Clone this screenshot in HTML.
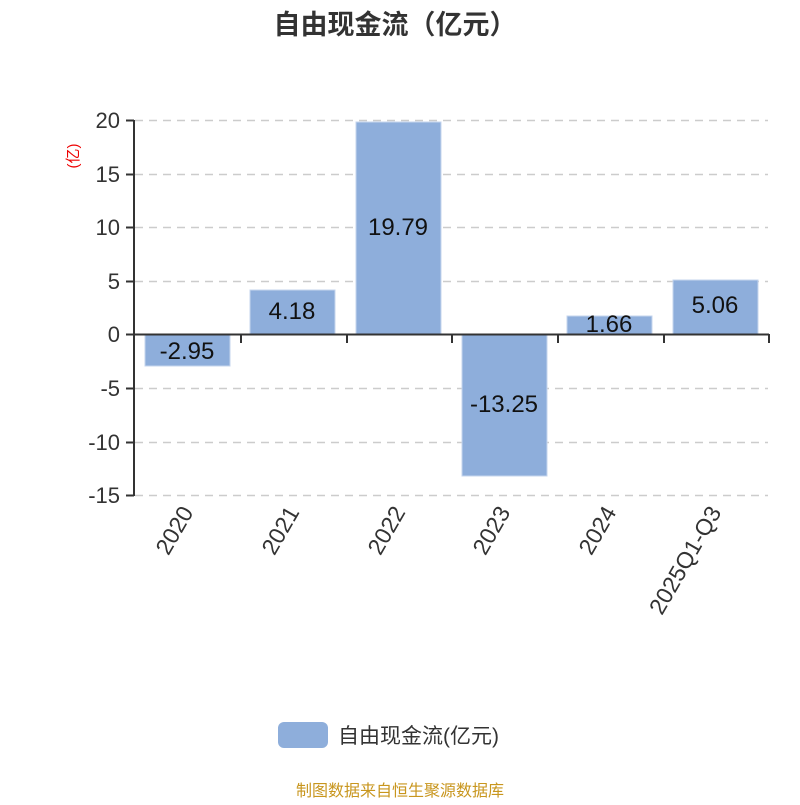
<!DOCTYPE html>
<html><head><meta charset="utf-8"><style>body{margin:0;background:#fff}</style></head><body>
<svg width="800" height="800" xmlns="http://www.w3.org/2000/svg" font-family="'Liberation Sans','Noto Sans CJK SC',sans-serif">
<text x="395" y="34" text-anchor="middle" font-size="27" font-weight="bold" fill="#333">自由现金流（亿元）</text>
<g stroke="#ccc" stroke-width="1.5" stroke-dasharray="8,6">
<line x1="135" y1="120.5" x2="768" y2="120.5"/><line x1="135" y1="174.5" x2="768" y2="174.5"/><line x1="135" y1="227.5" x2="768" y2="227.5"/><line x1="135" y1="281.5" x2="768" y2="281.5"/><line x1="135" y1="388.5" x2="768" y2="388.5"/><line x1="135" y1="442.5" x2="768" y2="442.5"/><line x1="135" y1="495.5" x2="768" y2="495.5"/>
</g>
<g fill="#8eaedb" stroke="#c5d5ee" stroke-width="1">
<rect x="145" y="334" width="85" height="32"/>
<rect x="250" y="290" width="85" height="44"/>
<rect x="356" y="122" width="85" height="212"/>
<rect x="462" y="334" width="85" height="142"/>
<rect x="567" y="316" width="85" height="18"/>
<rect x="673" y="280" width="85" height="54"/>
</g>
<g stroke="#333" stroke-width="2" fill="none">
<line x1="134" y1="120" x2="134" y2="496"/>
<line x1="126" y1="120.5" x2="134" y2="120.5"/><line x1="126" y1="174.5" x2="134" y2="174.5"/><line x1="126" y1="227.5" x2="134" y2="227.5"/><line x1="126" y1="281.5" x2="134" y2="281.5"/><line x1="126" y1="334.5" x2="134" y2="334.5"/><line x1="126" y1="388.5" x2="134" y2="388.5"/><line x1="126" y1="442.5" x2="134" y2="442.5"/><line x1="126" y1="495.5" x2="134" y2="495.5"/>
<line x1="134" y1="334.5" x2="769" y2="334.5"/>
<line x1="241" y1="334" x2="241" y2="343"/><line x1="347" y1="334" x2="347" y2="343"/><line x1="452" y1="334" x2="452" y2="343"/><line x1="558" y1="334" x2="558" y2="343"/><line x1="664" y1="334" x2="664" y2="343"/><line x1="769" y1="334" x2="769" y2="343"/>
</g>
<g font-size="22" fill="#333" text-anchor="end">
<text x="120" y="128">20</text><text x="120" y="182">15</text><text x="120" y="235">10</text><text x="120" y="289">5</text><text x="120" y="342">0</text><text x="120" y="396">-5</text><text x="120" y="450">-10</text><text x="120" y="503">-15</text>
</g>
<text transform="translate(78,156) rotate(-90)" text-anchor="middle" font-size="15" fill="#e00">(亿)</text>
<g font-size="24" fill="#111" text-anchor="middle">
<text x="187" y="359">-2.95</text><text x="292" y="319">4.18</text><text x="398" y="235">19.79</text><text x="504" y="412">-13.25</text><text x="609" y="332">1.66</text><text x="715" y="313">5.06</text>
</g>
<g font-size="23" fill="#333" text-anchor="end">
<text transform="translate(194,512) rotate(-60)">2020</text>
<text transform="translate(300,512) rotate(-60)">2021</text>
<text transform="translate(406,512) rotate(-60)">2022</text>
<text transform="translate(511,512) rotate(-60)">2023</text>
<text transform="translate(617,512) rotate(-60)">2024</text>
<text transform="translate(722,512) rotate(-60)">2025Q1-Q3</text>
</g>
<rect x="278" y="722" width="50" height="26" rx="6" fill="#8eaedb"/>
<text x="338" y="743" font-size="21" fill="#333">自由现金流(亿元)</text>
<text x="400" y="796" text-anchor="middle" font-size="16" fill="#c8961e">制图数据来自恒生聚源数据库</text>
</svg>
</body></html>
